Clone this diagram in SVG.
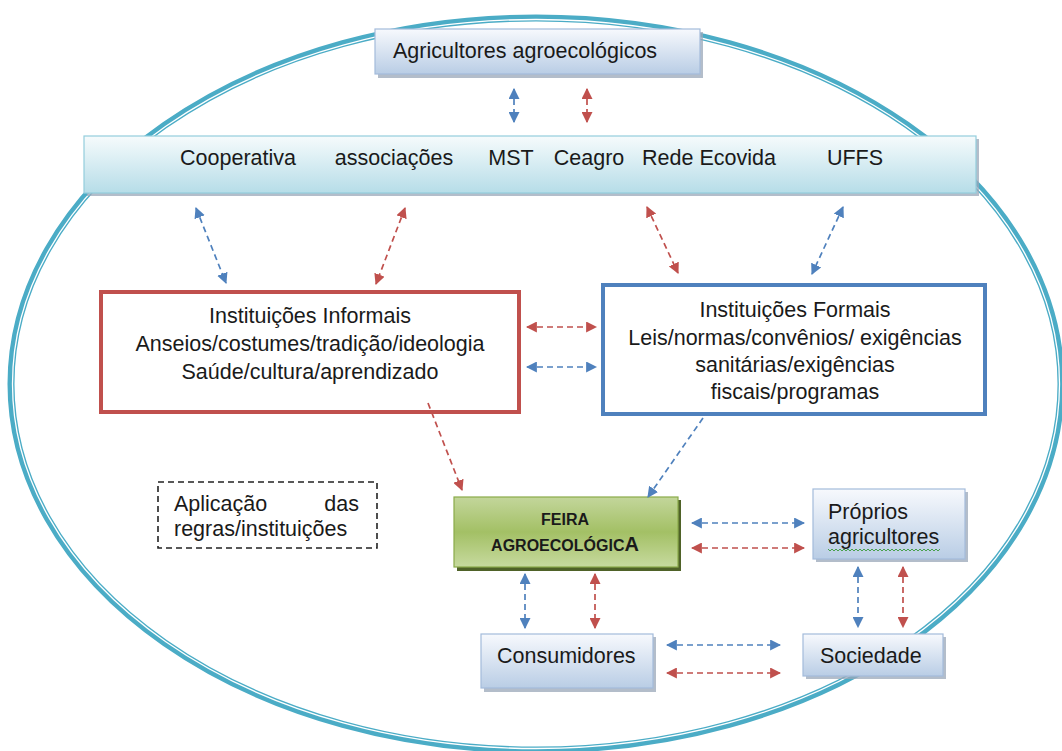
<svg xmlns="http://www.w3.org/2000/svg" width="1062" height="751" viewBox="0 0 1062 751">
<defs>
<style>
text{font-family:"Liberation Sans",Arial,sans-serif;fill:#1a1a1a;font-size:21.5px}
.c{text-anchor:middle}
.bl{fill:url(#gBlue);stroke:#a3bbdb;stroke-width:1.2}
.sh{fill:#9aa7b8;opacity:.75}
.db{fill:none;stroke:#4f81bd;stroke-width:1.7;stroke-dasharray:6 4}
.dr{fill:none;stroke:#c0504d;stroke-width:1.7;stroke-dasharray:6 4}
</style>
<linearGradient id="gBlue" x1="0" y1="0" x2="0" y2="1">
<stop offset="0" stop-color="#f7f9fd"/>
<stop offset="1" stop-color="#b9cde5"/>
</linearGradient>
<linearGradient id="gAqua" x1="0" y1="0" x2="0" y2="1">
<stop offset="0" stop-color="#f6fbfc"/>
<stop offset="1" stop-color="#b6dde8"/>
</linearGradient>
<linearGradient id="gGreen" x1="0" y1="0" x2="0" y2="1">
<stop offset="0" stop-color="#c3d69b"/>
<stop offset="0.5" stop-color="#a3c065"/>
<stop offset="1" stop-color="#c7da9f"/>
</linearGradient>
<marker id="mb" viewBox="0 0 10 10" refX="9" refY="5" markerWidth="11" markerHeight="11" markerUnits="userSpaceOnUse" orient="auto-start-reverse">
<path d="M0,0 L10,5 L0,10 z" fill="#4f81bd"/>
</marker>
<marker id="mr" viewBox="0 0 10 10" refX="9" refY="5" markerWidth="11" markerHeight="11" markerUnits="userSpaceOnUse" orient="auto-start-reverse">
<path d="M0,0 L10,5 L0,10 z" fill="#c0504d"/>
</marker>
</defs>
<rect width="1062" height="751" fill="#ffffff"/>
<g id="boundary">
<ellipse cx="536" cy="384" rx="525" ry="366" fill="none" stroke="#4bacc6" stroke-width="7"/>
<ellipse cx="536" cy="384" rx="523.5" ry="364.5" fill="none" stroke="#ffffff" stroke-width="1.3"/>
</g>
<g id="agricultores">
<rect class="sh" x="378" y="32" width="325" height="46"/>
<rect class="bl" x="375" y="29" width="325" height="45"/>
<text x="393" y="58">Agricultores agroecológicos</text>
</g>
<g id="organizacoes">
<rect class="sh" x="87" y="139" width="892" height="57"/>
<rect x="84" y="136" width="892" height="57" fill="url(#gAqua)" stroke="#93cddd" stroke-width="1.2"/>
<text class="c" x="238" y="165">Cooperativa</text>
<text class="c" x="394" y="165">associações</text>
<text class="c" x="511" y="165">MST</text>
<text class="c" x="589" y="165">Ceagro</text>
<text class="c" x="709" y="165">Rede Ecovida</text>
<text class="c" x="855" y="165">UFFS</text>
</g>
<g id="informais">
<rect x="101" y="292" width="418" height="120" fill="#ffffff" stroke="#c0504d" stroke-width="4"/>
<text class="c" x="310" y="323">Instituições Informais</text>
<text class="c" x="310" y="351">Anseios/costumes/tradição/ideologia</text>
<text class="c" x="310" y="379">Saúde/cultura/aprendizado</text>
</g>
<g id="formais">
<rect x="603" y="285" width="382" height="129" fill="#ffffff" stroke="#4f81bd" stroke-width="4"/>
<text class="c" x="795" y="317">Instituições Formais</text>
<text class="c" x="795" y="345">Leis/normas/convênios/ exigências</text>
<text class="c" x="795" y="372">sanitárias/exigências</text>
<text class="c" x="795" y="399">fiscais/programas</text>
</g>
<g id="aplicacao">
<rect x="158" y="482" width="219" height="66" fill="none" stroke="#222" stroke-width="1.6" stroke-dasharray="6 4"/>
<text x="174" y="511">Aplicação</text>
<text x="359" y="511" style="text-anchor:end">das</text>
<text x="174" y="536">regras/instituições</text>
</g>
<g id="feira">
<rect x="457" y="500" width="224" height="71" fill="#4f6228"/>
<rect x="454" y="497" width="224" height="70" fill="url(#gGreen)" stroke="#8aab4a" stroke-width="1.2"/>
<text class="c" x="565" y="525" style="font-weight:bold;font-size:16px">FEIRA</text>
<text class="c" x="565" y="551" style="font-weight:bold;font-size:16px">AGROECOLÓGIC<tspan style="font-size:20px">A</tspan></text>
</g>
<g id="proprios">
<rect class="sh" x="816" y="492" width="152" height="70"/>
<rect class="bl" x="813" y="489" width="152" height="70"/>
<text x="828" y="519">Próprios</text>
<text x="828" y="544">agricultores</text>
<polyline points="828,549 830,551 832,549 834,551 836,549 838,551 840,549 842,551 844,549 846,551 848,549 850,551 852,549 854,551 856,549 858,551 860,549 862,551 864,549 866,551 868,549 870,551 872,549 874,551 876,549 878,551 880,549 882,551 884,549 886,551 888,549 890,551 892,549 894,551 896,549 898,551 900,549 902,551 904,549 906,551 908,549 910,551 912,549 914,551 916,549 918,551 920,549 922,551 924,549 926,551 928,549 930,551 932,549 934,551 936,549 938,551 940,549" fill="none" stroke="#3a9a3a" stroke-width="0.9"/>
</g>
<g id="consumidores">
<rect class="sh" x="484" y="637" width="172" height="55"/>
<rect class="bl" x="481" y="634" width="172" height="54"/>
<text x="497" y="663">Consumidores</text>
</g>
<g id="sociedade">
<rect class="sh" x="806" y="637" width="140" height="42"/>
<rect class="bl" x="803" y="634" width="140" height="42"/>
<text x="820" y="663">Sociedade</text>
</g>
<g id="connectors">
<line class="db" x1="514" y1="89" x2="514" y2="122" marker-start="url(#mb)" marker-end="url(#mb)"/>
<line class="dr" x1="587" y1="89" x2="587" y2="122" marker-start="url(#mr)" marker-end="url(#mr)"/>
<line class="db" x1="196" y1="208" x2="226" y2="283" marker-start="url(#mb)" marker-end="url(#mb)"/>
<line class="dr" x1="405" y1="208" x2="376" y2="284" marker-start="url(#mr)" marker-end="url(#mr)"/>
<line class="dr" x1="647" y1="207" x2="678" y2="273" marker-start="url(#mr)" marker-end="url(#mr)"/>
<line class="db" x1="843" y1="207" x2="812" y2="274" marker-start="url(#mb)" marker-end="url(#mb)"/>
<line class="dr" x1="527" y1="327" x2="596" y2="327" marker-start="url(#mr)" marker-end="url(#mr)"/>
<line class="db" x1="527" y1="367" x2="596" y2="367" marker-start="url(#mb)" marker-end="url(#mb)"/>
<line class="dr" x1="428" y1="403" x2="462" y2="490" marker-end="url(#mr)"/>
<line class="db" x1="703" y1="418" x2="648" y2="497" marker-end="url(#mb)"/>
<line class="db" x1="692" y1="523" x2="804" y2="523" marker-start="url(#mb)" marker-end="url(#mb)"/>
<line class="dr" x1="692" y1="548" x2="804" y2="548" marker-start="url(#mr)" marker-end="url(#mr)"/>
<line class="db" x1="525" y1="574" x2="525" y2="628" marker-start="url(#mb)" marker-end="url(#mb)"/>
<line class="dr" x1="595" y1="574" x2="595" y2="628" marker-start="url(#mr)" marker-end="url(#mr)"/>
<line class="db" x1="667" y1="645" x2="780" y2="645" marker-start="url(#mb)" marker-end="url(#mb)"/>
<line class="dr" x1="667" y1="673" x2="780" y2="673" marker-start="url(#mr)" marker-end="url(#mr)"/>
<line class="db" x1="858" y1="567" x2="858" y2="627" marker-start="url(#mb)" marker-end="url(#mb)"/>
<line class="dr" x1="903" y1="567" x2="903" y2="627" marker-start="url(#mr)" marker-end="url(#mr)"/>
</g>
</svg>
